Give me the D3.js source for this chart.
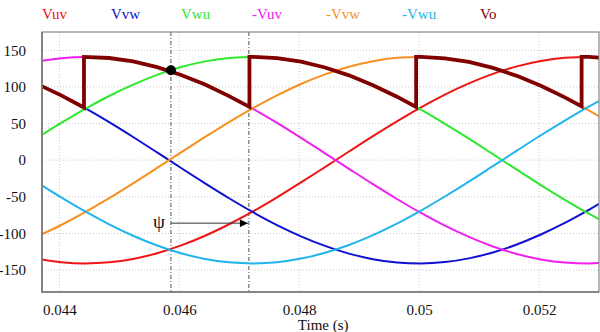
<html>
    <head>
        <style>
            body { margin: 0; background: #fff; }
            .grid line { stroke: #c8c8c8; stroke-dasharray: 1,2; }
            .phase { fill: none; stroke-width: 2; }
        </style>
        <script src="https://d3js.org/d3.v7.min.js" charset="utf-8"></script>
    </head>
    <body>
        <div id="viz"></div>
        <script>
            // sample times (s) and line voltages
            const time = [0.04363, 0.04403, 0.04443, 0.04483, 0.04523, 0.04563, 0.04603, 0.04643, 0.04683,
                          0.04723, 0.04763, 0.04803, 0.04843, 0.04883, 0.04923, 0.04963, 0.05003, 0.05043,
                          0.05083, 0.05123, 0.05163, 0.05203, 0.05243, 0.05283, 0.05323];
            const vuv  = [-134.5, -139.3, -141.0, -139.5, -134.8, -127.1, -116.4, -103.2, -87.5, -70.0, -50.8, -30.4,
                          -9.4, 11.8, 32.8, 53.0, 72.1, 89.5, 104.8, 117.8, 128.1, 135.5, 139.8, 141.0, 138.9];
            const vvw  = [104.0, 88.5, 71.0, 51.9, 31.6, 10.6, -10.7, -31.7, -52.0, -71.1, -88.6, -104.0,
                          -117.1, -127.6, -135.2, -139.7, -141.0, -139.1, -134.1, -126.0, -115.1, -101.5, -85.7, -67.9, -48.5];
            const vwu  = [30.5, 50.8, 70.0, 87.6, 103.2, 116.5, 127.1, 134.9, 139.5, 141.0, 139.4, 134.4,
                          126.5, 115.8, 102.4, 86.7, 68.9, 49.6, 29.3, 8.2, -13.0, -34.0, -54.1, -73.1, -90.4];
            const nvuv = [134.5, 139.3, 141.0, 139.5, 134.8, 127.1, 116.4, 103.2, 87.5, 70.0, 50.8, 30.4,
                          9.4, -11.8, -32.8, -53.0, -72.1, -89.5, -104.8, -117.8, -128.1, -135.5, -139.8, -141.0, -138.9];
            const nvvw = [-104.0, -88.5, -71.0, -51.9, -31.6, -10.6, 10.7, 31.7, 52.0, 71.1, 88.6, 104.0,
                          117.1, 127.6, 135.2, 139.7, 141.0, 139.1, 134.1, 126.0, 115.1, 101.5, 85.7, 67.9, 48.5];
            const nvwu = [-30.5, -50.8, -70.0, -87.6, -103.2, -116.5, -127.1, -134.9, -139.5, -141.0, -139.4, -134.4,
                          -126.5, -115.8, -102.4, -86.7, -68.9, -49.6, -29.3, -8.2, 13.0, 34.0, 54.1, 73.1, 90.4];

            // rectifier output, with the jumps (repeated times)
            const voTime  = [0.04363, 0.04403, 0.04441, 0.04441, 0.04483, 0.04523, 0.04563, 0.04603, 0.04643, 0.04683,
                             0.04717, 0.04717, 0.04723, 0.04763, 0.04803, 0.04843, 0.04883, 0.04923, 0.04963,
                             0.04995, 0.04995, 0.05003, 0.05043, 0.05083, 0.05123, 0.05163, 0.05203, 0.05243,
                             0.05271, 0.05271, 0.05283, 0.05323];
            const voValue = [104.0, 88.5, 71.9, 141.0, 139.5, 134.8, 127.1, 116.4, 103.2, 87.5,
                             72.7, 141.0, 141.0, 139.4, 134.4, 126.5, 115.8, 102.4, 86.7,
                             72.6, 141.0, 141.0, 139.1, 134.1, 126.0, 115.1, 101.5, 85.7,
                             73.5, 141.0, 141.0, 138.9];

            const xTicks = [0.044, 0.046, 0.048, 0.05, 0.052];
            const yTicks = [-150, -100, -50, 0, 50, 100, 150];
            const names  = ['Vuv', 'Vvw', 'Vwu', '-Vuv', '-Vvw', '-Vwu', 'Vo'];
            const colors = ['#f01414', '#1010d0', '#2ee82e', '#f020f0', '#f7901e', '#22b4ec', '#800000'];
            const legendX = [42, 111, 181, 252, 326, 402, 480];

            const markTime = [0.04586, 0.04716];   // dash-dot markers
            const dotTime = 0.04586, dotValue = 122.7;
            const arrowValue = -86;

            const serif = '"Liberation Serif", "Times New Roman", serif';

            let margin = { top: 32, right: 1, bottom: 40, left: 42 },
                width = 600, height = 332;
            let w = width - margin.left - margin.right,
                h = height - margin.top - margin.bottom;

            let svg = d3.select('#viz').append('svg').attr('width', width).attr('height', height)
                        .attr('font-family', serif);
            let g = svg.append('g').attr('transform', `translate(${margin.left}, ${margin.top})`);

            let x = d3.scaleLinear().domain([0.04371, 0.05300]).range([0, w]);
            let y = d3.scaleLinear().domain([-180, 175]).range([h, 0]);

            // grid
            let grid = g.append('g').attr('class', 'grid');
            grid.selectAll('.gx').data(xTicks).join('line')
                .attr('x1', d => x(d)).attr('x2', d => x(d)).attr('y1', 0).attr('y2', h);
            grid.selectAll('.gy').data(yTicks).join('line').attr('class', 'gy')
                .attr('y1', d => y(d)).attr('y2', d => y(d)).attr('x1', 0).attr('x2', w);

            // axes (labels only, frame drawn below)
            let xAxis = g.append('g').attr('transform', `translate(0, ${h})`)
                .call(d3.axisBottom(x).tickValues(xTicks).tickSize(0).tickPadding(12).tickFormat(d => String(d)));
            let yAxis = g.append('g')
                .call(d3.axisLeft(y).tickValues(yTicks).tickSize(0).tickPadding(16).tickFormat(d => String(d)));
            [xAxis, yAxis].forEach(a => {
                a.attr('font-family', serif).attr('font-size', 15);
                a.select('.domain').remove();
                a.selectAll('text').attr('fill', '#111');
            });

            g.append('text').text('Time (s)')
                .attr('x', x(0.0484)).attr('y', h + 38)
                .attr('text-anchor', 'middle').attr('font-size', 15).attr('fill', '#111');

            // dash-dot markers
            g.selectAll('.mark').data(markTime).join('line').attr('class', 'mark')
                .attr('x1', d => x(d)).attr('x2', d => x(d)).attr('y1', 0).attr('y2', h)
                .attr('stroke', '#555').attr('stroke-width', 1).attr('stroke-dasharray', '4,2,1,2');

            let clip = g.append('clipPath').attr('id', 'clip');
            clip.append('rect').attr('width', w).attr('height', h);
            let plot = g.append('g').attr('clip-path', 'url(#clip)');

            let line = d3.line().x(d => x(d[0])).y(d => y(d[1])).curve(d3.curveMonotoneX);
            let series = [vuv, vvw, vwu, nvuv, nvvw, nvwu];
            series.forEach((s, i) => {
                plot.append('path').attr('class', 'phase')
                    .attr('d', line(time.map((t, j) => [t, s[j]])))
                    .attr('stroke', colors[i]);
            });

            let voLine = d3.line().x(d => x(d[0])).y(d => y(d[1]));
            plot.append('path')
                .attr('d', voLine(voTime.map((t, j) => [t, voValue[j]])))
                .attr('fill', 'none').attr('stroke', colors[6])
                .attr('stroke-width', 3.8).attr('stroke-linejoin', 'miter');

            // operating point
            g.append('circle').attr('cx', x(dotTime)).attr('cy', y(dotValue)).attr('r', 5).attr('fill', '#000');

            // psi arrow
            g.append('defs').append('marker').attr('id', 'head')
                .attr('viewBox', '0 0 10 10').attr('refX', 10).attr('refY', 5)
                .attr('markerWidth', 10).attr('markerHeight', 8).attr('markerUnits', 'userSpaceOnUse')
                .attr('orient', 'auto')
                .append('path').attr('d', 'M0,0L10,5L0,10Z').attr('fill', '#000');
            g.append('line')
                .attr('x1', x(markTime[0])).attr('x2', x(markTime[1]) - 1)
                .attr('y1', y(arrowValue)).attr('y2', y(arrowValue))
                .attr('stroke', '#333').attr('stroke-width', 1).attr('marker-end', 'url(#head)');
            g.append('text').text('ψ')
                .attr('x', x(markTime[0]) - 6).attr('y', y(arrowValue) + 5)
                .attr('text-anchor', 'end').attr('font-size', 19).attr('fill', '#111');

            // frame
            g.append('rect').attr('width', w).attr('height', h)
                .attr('fill', 'none').attr('stroke', '#888').attr('stroke-width', 1.2);
            g.append('path').attr('d', `M0,0V${h}H${w}`)
                .attr('fill', 'none').attr('stroke', '#777').attr('stroke-width', 1.6);

            // legend
            svg.selectAll('.legend').data(names).join('text').attr('class', 'legend')
                .text(d => d)
                .attr('x', (d, i) => legendX[i]).attr('y', 19)
                .attr('fill', (d, i) => colors[i])
                .attr('font-size', 15);
        </script>
    </body>
</html>
